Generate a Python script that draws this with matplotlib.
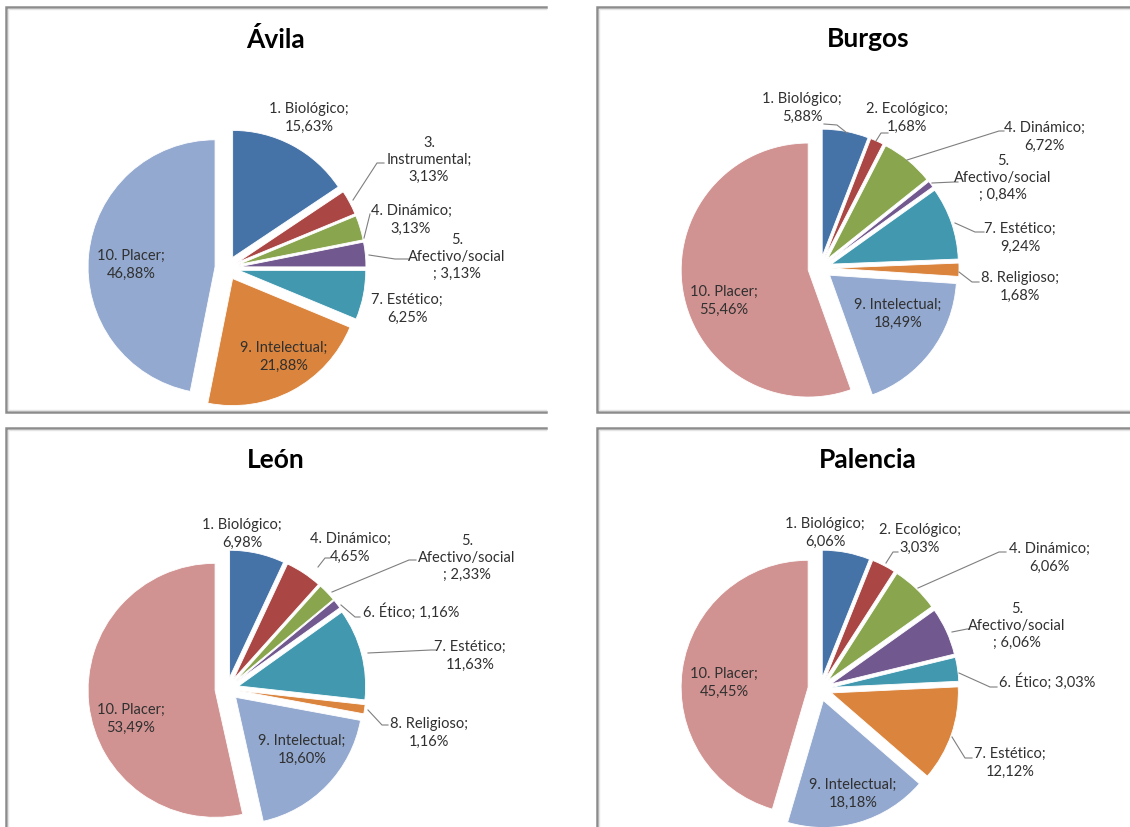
import matplotlib
matplotlib.use('Agg')
import matplotlib.pyplot as plt

plt.rcParams['font.family'] = ['Lato', 'DejaVu Sans']

W, H = 1130, 827

# Datos por provincia (porcentajes)
avila_cats = ['1. Biológico', '3. Instrumental', '4. Dinámico', '5. Afectivo/social',
              '7. Estético', '9. Intelectual', '10. Placer']
avila_vals = [15.63, 3.13, 3.13, 3.13, 6.25, 21.88, 46.88]

burgos_cats = ['1. Biológico', '2. Ecológico', '4. Dinámico', '5. Afectivo/social',
               '7. Estético', '8. Religioso', '9. Intelectual', '10. Placer']
burgos_vals = [5.88, 1.68, 6.72, 0.84, 9.24, 1.68, 18.49, 55.46]

leon_cats = ['1. Biológico', '4. Dinámico', '5. Afectivo/social', '6. Ético',
             '7. Estético', '8. Religioso', '9. Intelectual', '10. Placer']
leon_vals = [6.98, 4.65, 2.33, 1.16, 11.63, 1.16, 18.60, 53.49]

palencia_cats = ['1. Biológico', '2. Ecológico', '4. Dinámico', '5. Afectivo/social',
                 '6. Ético', '7. Estético', '9. Intelectual', '10. Placer']
palencia_vals = [6.06, 3.03, 6.06, 6.06, 3.03, 12.12, 18.18, 45.45]

# Paleta de Excel 2007, asignada por orden de sector
colores = ['#4572A7', '#AA4643', '#89A54E', '#71588F', '#4198AF', '#DB843D']
col_avila = colores + ['#93A9CF']
col_resto = colores + ['#93A9CF', '#D19392']

# Disposición: marco, título, centro del gráfico (en píxeles)
paneles = [
    dict(titulo='Ávila', cats=avila_cats, vals=avila_vals, cols=col_avila,
         marco=(6, 7, 546, 412), pos_titulo=(276, 39), centro=(227, 268),
         estilos=['dos', 'num', 'dos', 'numpunto', 'dos', 'dos', 'dos'],
         pos=[(309, 118), (429, 160), (411, 220), (457, 257), (407, 309), (284, 357), (131, 265)],
         guias=[None,
                [(353, 200), (377, 163), (384, 163)],
                [(364, 238), (370, 214)],
                [(369, 255), (395, 259), (409, 259)],
                None, None, None]),
    dict(titulo='Burgos', cats=burgos_cats, vals=burgos_vals, cols=col_resto,
         marco=(597, 7, 1140, 412), pos_titulo=(868, 39), centro=(820, 268),
         estilos=['dos', 'dos', 'dos', 'numpunto', 'dos', 'dos', 'dos', 'dos'],
         pos=[(802, 108), (907, 118), (1044, 137), (1003, 178), (1020, 238), (1020, 287),
              (898, 314), (724, 301)],
         guias=[[(824, 124), (837, 125), (847, 133)],
                [(876, 141), (881, 133), (888, 133)],
                [(907, 160), (999, 131), (1004, 131)],
                [(932, 183), (954, 182), (958, 182)],
                [(955, 223), (975, 232), (984, 232)],
                [(959, 272), (972, 282), (979, 282)],
                None, None]),
    dict(titulo='León', cats=leon_cats, vals=leon_vals, cols=col_resto,
         marco=(6, 428, 546, 840), pos_titulo=(276, 460), centro=(227, 689),
         estilos=['dos', 'dos', 'numpunto', 'uno', 'dos', 'dos', 'dos', 'dos'],
         pos=[(242, 534), (350, 548), (467, 558), (411, 612), (470, 656), (429, 733),
              (302, 750), (131, 719)],
         guias=[None,
                [(318, 567), (325, 558), (330, 558)],
                [(332, 592), (409, 560), (416, 560)],
                [(341, 605), (355, 617), (360, 617)],
                [(368, 653), (431, 650), (436, 650)],
                [(368, 710), (382, 725), (388, 725)],
                None, None]),
    dict(titulo='Palencia', cats=palencia_cats, vals=palencia_vals, cols=col_resto,
         marco=(597, 428, 1140, 840), pos_titulo=(868, 460), centro=(820, 689),
         estilos=['dos', 'dos', 'dos', 'numpunto', 'uno', 'dos', 'dos', 'dos'],
         pos=[(825, 533), (920, 539), (1049, 558), (1017, 626), (1047, 682), (1010, 763),
              (853, 794), (724, 683)],
         guias=[None,
                [(886, 563), (893, 552), (898, 552)],
                [(918, 588), (999, 552), (1006, 552)],
                [(952, 632), (967, 629), (970, 629)],
                [(959, 673), (990, 687), (997, 687)],
                [(952, 737), (965, 758), (972, 758)],
                None, None]),
]

RADIO = 127
# separación de cada sector, en las mismas unidades que el radio
SEPARACION = 12


def etiqueta(cat, val, estilo):
    v = f'{val:.2f}'.replace('.', ',') + '%'
    if estilo == 'uno':
        return f'{cat}; {v}'
    if estilo == 'num':
        n, nombre = cat.split(' ', 1)
        return f'{n}\n{nombre};\n{v}'
    if estilo == 'numpunto':
        n, nombre = cat.split(' ', 1)
        return f'{n}\n{nombre}\n; {v}'
    return f'{cat};\n{v}'


def yy(y):
    # las coordenadas se miden desde arriba
    return H - y


fig = plt.figure(figsize=(W / 100, H / 100), dpi=100)
ax = fig.add_axes([0, 0, 1, 1])

for p in paneles:
    x0, y0, x1, y1 = p['marco']
    ax.plot([x1, x0, x0, x1], [yy(y0), yy(y0), yy(y1), yy(y1)],
            color='#8c8c8c', lw=1.8, solid_joinstyle='miter', zorder=1)
    ax.plot([x1, x0 + 2, x0 + 2, x1], [yy(y0) - 2, yy(y0) - 2, yy(y1) + 2, yy(y1) + 2],
            color='#e4e4e4', lw=1.0, zorder=1)

    ax.text(p['pos_titulo'][0], yy(p['pos_titulo'][1]), p['titulo'],
            fontsize=19, fontweight='bold', ha='center', va='center', color='black')

    cx, cy = p['centro']
    ax.pie(p['vals'], colors=p['cols'], startangle=90, counterclock=False,
           explode=[SEPARACION] * len(p['vals']), radius=RADIO, center=(cx, yy(cy)),
           wedgeprops=dict(edgecolor='white', linewidth=0.6))

    for cat, val, est, (tx, ty), guia in zip(p['cats'], p['vals'], p['estilos'],
                                             p['pos'], p['guias']):
        ax.text(tx, yy(ty), etiqueta(cat, val, est), fontsize=10.5, color='#303030',
                ha='center', va='center', linespacing=1.3)
        if guia:
            gx, gy = zip(*guia)
            ax.plot(gx, [yy(g) for g in gy], color='#7f7f7f', lw=0.8)

ax.set_xlim(0, W)
ax.set_ylim(0, H)
ax.set_aspect('equal')
ax.axis('off')

fig.savefig('out.png', dpi=100)
